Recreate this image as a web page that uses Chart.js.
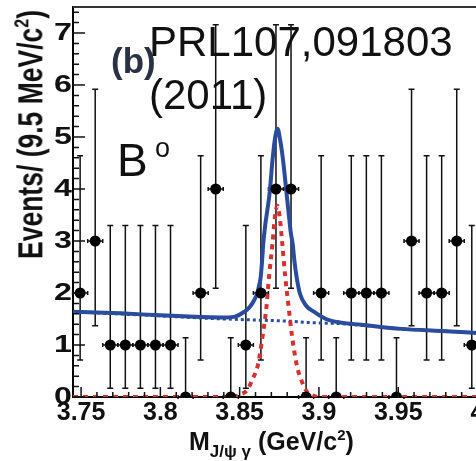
<!DOCTYPE html>
<html>
<head>
<meta charset="utf-8">
<script src="https://cdn.jsdelivr.net/npm/chart.js@4.4.1/dist/chart.umd.min.js"></script>
<style>
  html, body { margin: 0; padding: 0; background: #fff; overflow: hidden; }
  #wrap { position: relative; width: 476px; height: 461px; overflow: hidden; }
  #c { position: absolute; left: 0; top: 0; }
  .txt { position: absolute; white-space: nowrap; line-height: 1; font-family: "Liberation Sans", Arial, sans-serif; color: #111; }
</style>
</head>
<body>
<div id="wrap">
  <canvas id="c" width="483" height="461"></canvas>
  <div class="txt" style="left:111px; top:43px; font-size:35px; font-weight:bold; color:#2b3144;">(b)</div>
  <div class="txt" style="left:149px; top:21px; font-size:42px;">PRL107,091803</div>
  <div class="txt" style="left:149px; top:74px; font-size:42px;">(2011)</div>
  <div class="txt" style="left:117px; top:137px; font-size:46px;">B</div>
  <div class="txt" style="left:155px; top:135px; font-size:27px;">o</div>
  <div class="txt" style="left:12.5px; top:259px; font-size:26.5px; font-weight:bold; transform-origin:0 0; transform:rotate(-90deg) scaleY(1.32);">Events/ (9.5 MeV/c<span style="font-size:16px; position:relative; top:-10px;">2</span>)</div>
  <div class="txt" style="left:189px; top:429px; font-size:25px; font-weight:bold;">M<span style="font-size:17px; position:relative; top:7px;">J/ψ γ</span> (GeV/c<span style="font-size:15px; position:relative; top:-10px;">2</span>)</div>
</div>
<script>
// bin centres (GeV/c^2) and event counts
const binX = [3.7494, 3.7589, 3.7684, 3.7779, 3.7874, 3.7969, 3.8064, 3.8159, 3.8254,
              3.8349, 3.8444, 3.8539, 3.8634, 3.8729, 3.8824, 3.8919, 3.9014, 3.9109,
              3.9204, 3.9299, 3.9394, 3.9489, 3.9584, 3.9679, 3.9774, 3.9869, 3.9964];
const counts = [2, 3, 1, 1, 1, 1, 1, 0, 2, 4, 0, 1, 2, 4, 4, 0, 2, 0, 2, 2, 2, 0, 3, 2, 2, 3, 1];
const errLow = [0.71, 1.37, 0.17, 0.17, 0.17, 0.17, 0.17, 0, 0.71, 2.09, 0, 0.17, 0.71, 2.09,
                2.09, 0, 0.71, 0, 0.71, 0.71, 0.71, 0, 1.37, 0.71, 0.71, 1.37, 0.17];
const errHigh = [4.64, 5.92, 3.30, 3.30, 3.30, 3.30, 3.30, 1.14, 4.64, 7.16, 1.14, 3.30, 4.64, 7.16,
                 7.16, 1.14, 4.64, 1.14, 4.64, 4.64, 4.64, 1.14, 5.92, 4.64, 4.64, 5.92, 3.30];
const binHalfWidth = 0.00475;

// total fit (blue solid)
const fitX = [3.7449, 3.7747, 3.8000, 3.8253, 3.8411, 3.8475, 3.8525, 3.8557, 3.8580, 3.8598,
              3.8612, 3.8623, 3.8633, 3.8641, 3.8649, 3.8661, 3.8675, 3.8690, 3.8707, 3.8722,
              3.8739, 3.8755, 3.8774, 3.8796, 3.8812, 3.8823, 3.8834, 3.8846, 3.8859, 3.8880,
              3.8918, 3.8968, 3.9044, 3.9139, 3.9266, 3.9519, 3.9772, 4.0000];
const fitY = [1.64, 1.61, 1.57, 1.54, 1.53, 1.55, 1.63, 1.71, 1.80, 1.90,
              2.00, 2.15, 2.31, 2.60, 2.95, 3.30, 3.60, 3.95, 4.55, 4.95,
              5.16, 4.95, 4.55, 3.91, 3.45, 3.15, 2.95, 2.60, 2.31, 1.99,
              1.76, 1.64, 1.50, 1.43, 1.39, 1.31, 1.27, 1.23];

// background (blue dotted)
const bgX = [3.7449, 3.8000, 3.8253, 3.8411, 3.8600, 3.8800, 3.8950, 3.9044, 3.9139, 3.9266, 3.9519, 3.9772, 4.0000];
const bgY = [1.64, 1.56, 1.52, 1.50, 1.48, 1.46, 1.43, 1.42, 1.41, 1.38, 1.31, 1.27, 1.23];

// signal (red dashed)
const sigX = [3.7449, 3.8443, 3.8506, 3.8551, 3.8582, 3.8614, 3.8646, 3.8668, 3.8685, 3.8707, 3.8722,
              3.8738, 3.8753, 3.8769, 3.8788, 3.8810, 3.8829, 3.8861, 3.8886, 3.8918, 3.8962, 3.9013, 4.0000];
const sigY = [0, 0, 0.05, 0.15, 0.35, 0.6, 1.2, 1.7, 2.3, 2.95, 3.45,
              3.68, 3.45, 2.95, 2.3, 1.7, 1.2, 0.6, 0.35, 0.13, 0.03, 0, 0];

const xTicks = [3.75, 3.8, 3.85, 3.9, 3.95, 4.0];
const xTickLabels = ['3.75', '3.8', '3.85', '3.9', '3.95', '4'];
const yTicks = [0, 1, 2, 3, 4, 5, 6, 7];
const yTickLabels = ['0', '1', '2', '3', '4', '5', '6', '7'];

const BLUE = '#2a4c9c';
const RED = '#d5322f';

const pts = (xs, ys) => xs.map((x, i) => ({ x: x, y: ys[i] }));

const errorBars = {
  id: 'errorBars',
  beforeDatasetsDraw(chart) {
    const { ctx, scales: { x, y } } = chart;
    ctx.save();
    ctx.strokeStyle = '#111';
    ctx.lineWidth = 1.5;
    binX.forEach((bx, i) => {
      const px = x.getPixelForValue(bx);
      const py = y.getPixelForValue(counts[i]);
      const lo = y.getPixelForValue(errLow[i]);
      const hi = y.getPixelForValue(errHigh[i]);
      const l = x.getPixelForValue(bx - binHalfWidth);
      const r = x.getPixelForValue(bx + binHalfWidth);
      ctx.beginPath();
      ctx.moveTo(px, lo); ctx.lineTo(px, hi);
      ctx.moveTo(px - 3, hi); ctx.lineTo(px + 3, hi);
      if (errLow[i] > 0) { ctx.moveTo(px - 3, lo); ctx.lineTo(px + 3, lo); }
      ctx.moveTo(l, py); ctx.lineTo(r, py);
      ctx.moveTo(l, py - 2); ctx.lineTo(l, py + 2);
      ctx.moveTo(r, py - 2); ctx.lineTo(r, py + 2);
      ctx.stroke();
    });
    ctx.restore();
  }
};

const frame = {
  id: 'frame',
  afterDraw(chart) {
    const { ctx, chartArea: a, scales: { x, y } } = chart;
    ctx.save();
    // top frame line
    ctx.strokeStyle = '#333';
    ctx.lineWidth = 2;
    ctx.beginPath();
    ctx.moveTo(a.left, a.top); ctx.lineTo(a.right, a.top);
    ctx.stroke();
    // inward ticks
    ctx.strokeStyle = '#111';
    ctx.lineWidth = 1.5;
    ctx.beginPath();
    for (let k = 0; k <= 37; k++) {
      const py = y.getPixelForValue(k * 0.2);
      const len = k % 5 === 0 ? 12 : 6;
      ctx.moveTo(a.left, py); ctx.lineTo(a.left + len, py);
    }
    for (let k = 375; k <= 400; k++) {
      const px = x.getPixelForValue(k / 100);
      const len = k % 5 === 0 ? 10 : 5;
      ctx.moveTo(px, a.bottom); ctx.lineTo(px, a.bottom - len);
    }
    ctx.stroke();
    // y tick labels, drawn wide like the original
    ctx.fillStyle = '#111';
    ctx.font = 'bold 23px "Liberation Sans", Arial, sans-serif';
    ctx.textAlign = 'right';
    ctx.textBaseline = 'middle';
    yTicks.forEach((v, i) => {
      ctx.save();
      ctx.translate(72, y.getPixelForValue(v) + 1);
      ctx.scale(1.4, 1);
      ctx.fillText(yTickLabels[i], 0, 0);
      ctx.restore();
    });
    ctx.restore();
  }
};

new Chart(document.getElementById('c'), {
  type: 'scatter',
  data: {
    datasets: [
      {
        label: 'data',
        data: pts(binX, counts),
        pointRadius: 5.5,
        pointBackgroundColor: '#000',
        pointBorderWidth: 0,
        showLine: false,
        order: 0
      },
      {
        label: 'signal',
        data: pts(sigX, sigY),
        showLine: true,
        borderColor: RED,
        borderWidth: 4,
        borderDash: [5, 5],
        pointRadius: 0,
        cubicInterpolationMode: 'monotone',
        order: 1
      },
      {
        label: 'fit',
        data: pts(fitX, fitY),
        showLine: true,
        borderColor: BLUE,
        borderWidth: 4,
        pointRadius: 0,
        cubicInterpolationMode: 'monotone',
        order: 2
      },
      {
        label: 'background',
        data: pts(bgX, bgY),
        showLine: true,
        borderColor: BLUE,
        borderWidth: 3,
        borderDash: [3, 3],
        pointRadius: 0,
        cubicInterpolationMode: 'monotone',
        order: 3
      }
    ]
  },
  options: {
    responsive: false,
    animation: false,
    layout: { padding: { top: 7, left: 0, right: 0, bottom: 0 } },
    plugins: { legend: { display: false }, tooltip: { enabled: false } },
    scales: {
      x: {
        type: 'linear',
        min: 3.7449,
        max: 4.0,
        grid: { display: false, drawTicks: false },
        border: { display: true, color: '#000', width: 2 },
        afterBuildTicks: s => { s.ticks = xTicks.map(v => ({ value: v })); },
        afterFit: s => { s.height = 64; s.paddingLeft = 0; s.paddingRight = 0; },
        ticks: {
          autoSkip: false,
          maxRotation: 0,
          padding: 1,
          color: '#111',
          font: { family: '"Liberation Sans", Arial, sans-serif', size: 25, weight: 'bold' },
          callback: (v, i) => xTickLabels[i]
        }
      },
      y: {
        min: 0,
        max: 7.5,
        grid: { display: false, drawTicks: false },
        border: { display: true, color: '#000', width: 2 },
        ticks: { display: false },
        afterFit: s => { s.width = 73; }
      }
    }
  },
  plugins: [errorBars, frame]
});
</script>
</body>
</html>
